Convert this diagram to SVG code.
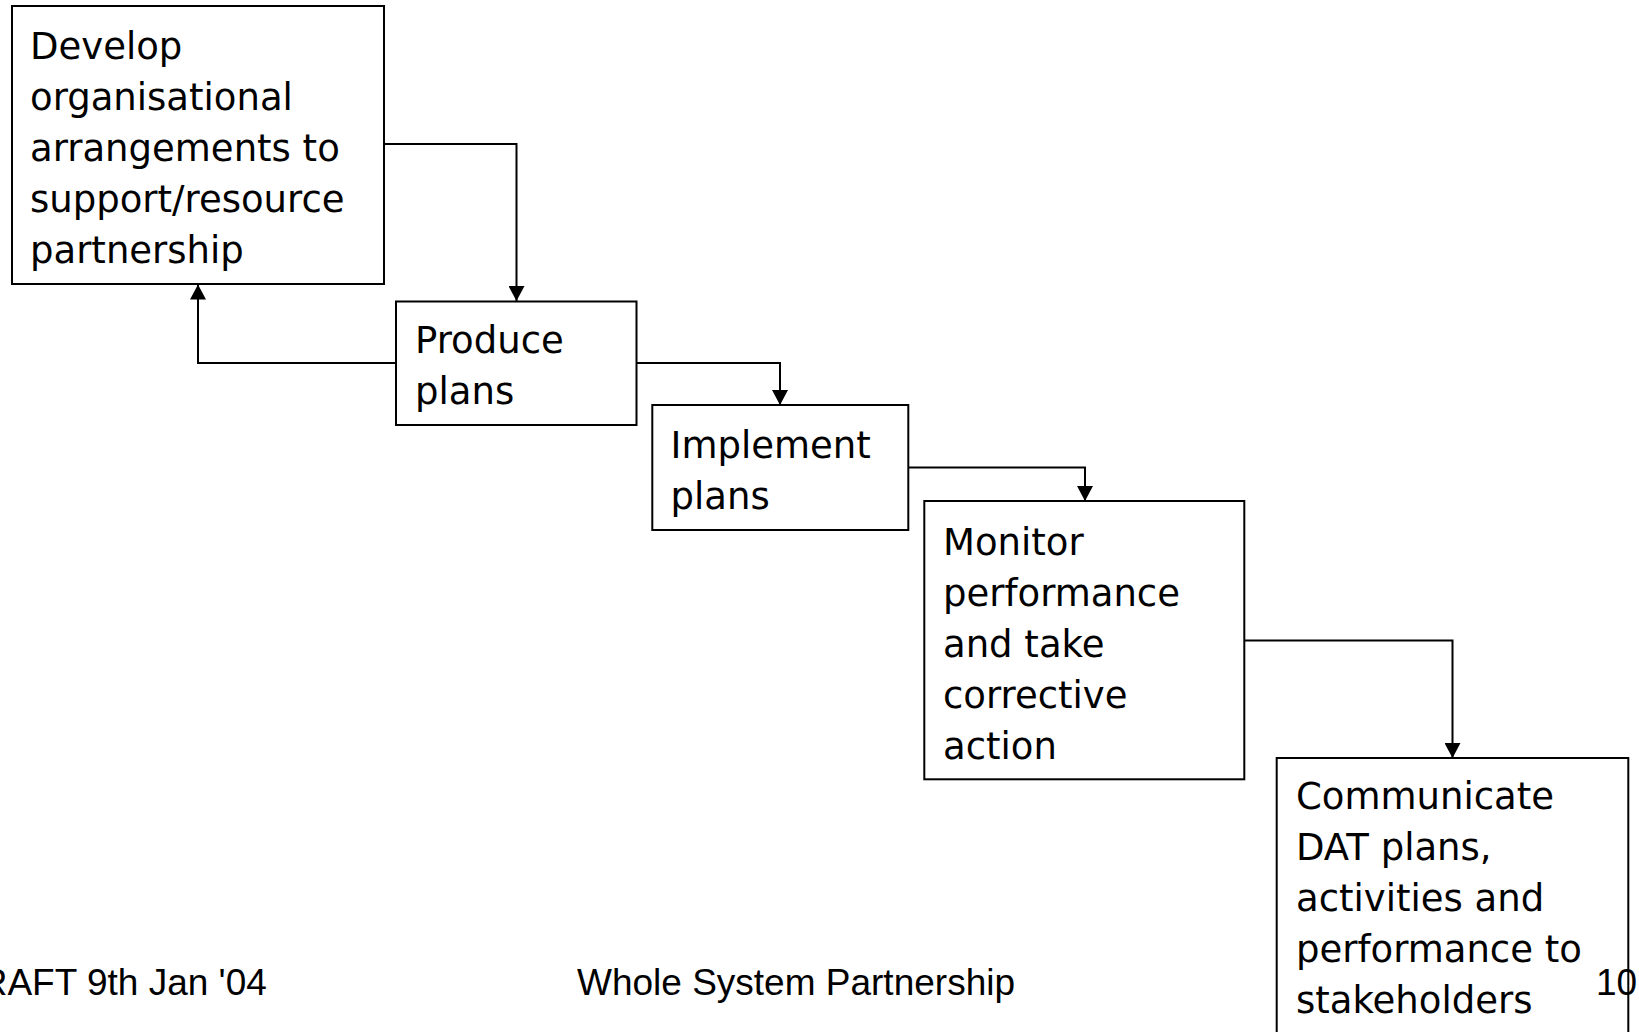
<svg xmlns="http://www.w3.org/2000/svg" width="1639" height="1032" viewBox="0 0 1639 1032">
  <style>
    .box { fill: none; stroke: #000; stroke-width: 2; }
    .lbl { font-family: "DejaVu Sans", Verdana, sans-serif; font-size: 37px; fill: #000; }
    .conn { fill: none; stroke: #000; stroke-width: 2; marker-end: url(#arrow); }
    .foot { font-family: "Liberation Sans", Arial, sans-serif; font-size: 37px; fill: #000; }
  </style>
  <defs>
    <marker id="arrow" markerUnits="userSpaceOnUse" markerWidth="16" markerHeight="16" refX="15" refY="8" orient="auto">
      <path d="M0,0 L15,8 L0,16 z" fill="#000"/>
    </marker>
  </defs>
  <rect width="1639" height="1032" fill="#fff"/>

  <g id="connectors">
    <path class="conn" d="M384,144 H516.5 V301"/>
    <path class="conn" d="M396,363 H198 V284.5"/>
    <path class="conn" d="M636.5,363 H780 V405"/>
    <path class="conn" d="M908.5,467.5 H1085 V501"/>
    <path class="conn" d="M1244.5,640.5 H1452.5 V758"/>
  </g>

  <g id="node-develop">
    <rect class="box" x="12" y="6" width="372" height="278"/>
    <text class="lbl" x="30">
      <tspan x="30" y="59">Develop</tspan>
      <tspan x="30" y="110">organisational</tspan>
      <tspan x="30" y="161">arrangements to</tspan>
      <tspan x="30" y="212">support/resource</tspan>
      <tspan x="30" y="263">partnership</tspan>
    </text>
  </g>

  <g id="node-produce">
    <rect class="box" x="396" y="301.5" width="240.5" height="123.5"/>
    <text class="lbl">
      <tspan x="415" y="353">Produce</tspan>
      <tspan x="415" y="404">plans</tspan>
    </text>
  </g>

  <g id="node-implement">
    <rect class="box" x="652.3" y="405" width="256" height="125"/>
    <text class="lbl">
      <tspan x="670.5" y="458">Implement</tspan>
      <tspan x="670.5" y="509">plans</tspan>
    </text>
  </g>

  <g id="node-monitor">
    <rect class="box" x="924.3" y="501" width="320" height="278.3"/>
    <text class="lbl">
      <tspan x="943" y="555">Monitor</tspan>
      <tspan x="943" y="606">performance</tspan>
      <tspan x="943" y="657">and take</tspan>
      <tspan x="943" y="708">corrective</tspan>
      <tspan x="943" y="759">action</tspan>
    </text>
  </g>

  <g id="node-communicate">
    <rect class="box" x="1276.7" y="758" width="351.6" height="300"/>
    <text class="lbl">
      <tspan x="1296" y="808.5">Communicate</tspan>
      <tspan x="1296" y="860">DAT plans,</tspan>
      <tspan x="1296" y="911">activities and</tspan>
      <tspan x="1296" y="962">performance to</tspan>
      <tspan x="1296" y="1013">stakeholders</tspan>
    </text>
  </g>

  <g id="footer">
    <text class="foot" x="-46" y="995">DRAFT 9th Jan '04</text>
    <text class="foot" x="577" y="995">Whole System Partnership</text>
    <text class="foot" x="1596" y="995">10</text>
  </g>
</svg>
